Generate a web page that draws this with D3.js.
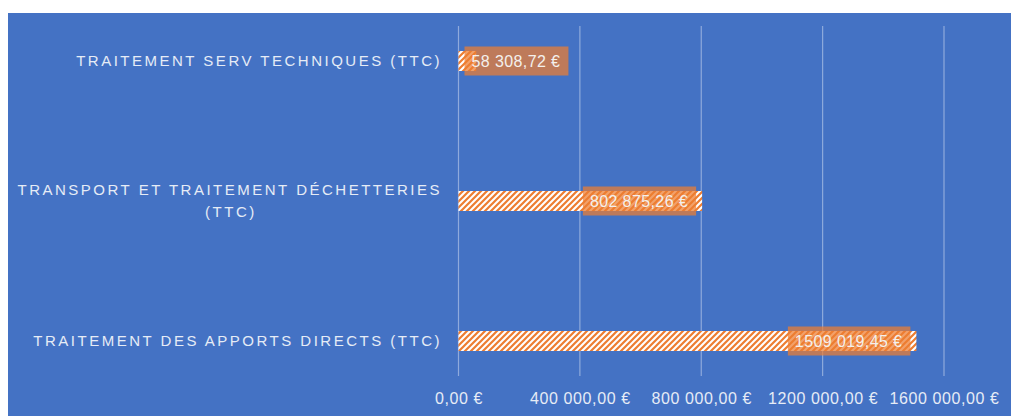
<!DOCTYPE html>
<html>
<head>
<meta charset="utf-8">
<script src="https://cdn.jsdelivr.net/npm/d3@7"></script>
<style>
  html, body { margin: 0; padding: 0; background: #fff; }
  svg { display: block; }
  .cat { font-family: "Liberation Sans", Arial, sans-serif; font-size: 15px; letter-spacing: 2.5px; fill: #e6ecf6; }
  .tick text { font-family: "Liberation Sans", Arial, sans-serif; font-size: 16px; letter-spacing: 0.6px; fill: #e6ecf6; }
  .lbl { font-family: "Liberation Sans", Arial, sans-serif; font-size: 16px; letter-spacing: 0.4px; fill: #f4f0ec; }
</style>
</head>
<body>
<svg id="chart" width="1011" height="416"></svg>
<script>
// --- data ---
const categories = [
    "TRAITEMENT SERV TECHNIQUES (TTC)",
    "TRANSPORT ET TRAITEMENT DÉCHETTERIES (TTC)",
    "TRAITEMENT DES APPORTS DIRECTS (TTC)"
];
const values = [58308.72, 802875.26, 1509019.45];
const tickValues = [0, 400000, 800000, 1200000, 1600000];
const tickLabels = ["0,00 €", "400 000,00 €", "800 000,00 €", "1200 000,00 €", "1600 000,00 €"];

// Excel style "# ##0,00 €" : only one group separator
function fmt(v) {
    const parts = v.toFixed(2).split(".");
    let int = parts[0];
    if (int.length > 3) int = int.slice(0, -3) + " " + int.slice(-3);
    return int + "," + parts[1] + " €";
}

const width = 1011, height = 416;
const svg = d3.select("#chart");

// background
svg.append("rect").attr("x", 8).attr("y", 13)
    .attr("width", width - 8).attr("height", height - 13)
    .attr("fill", "#4472c4");

// hatch pattern (wide upward diagonal)
const defs = svg.append("defs");
const pat = defs.append("pattern")
    .attr("id", "hatch")
    .attr("patternUnits", "userSpaceOnUse")
    .attr("width", 6).attr("height", 6);
pat.append("rect").attr("width", 6).attr("height", 6).attr("fill", "#ffffff");
pat.append("path")
    .attr("d", "M-1,1 L1,-1 M0,6 L6,0 M5,7 L7,5")
    .attr("stroke", "#ed7d31").attr("stroke-width", 2.2);

const x = d3.scaleLinear().domain([0, 1600000]).range([458.5, 944]);
const y = d3.scaleBand().domain(categories).range([-9, 411]);
const barH = 20;
const gridTop = 26, gridBottom = 376;

// gridlines
svg.append("g").selectAll("line")
    .data(tickValues)
    .enter().append("line")
    .attr("x1", d => x(d)).attr("x2", d => x(d))
    .attr("y1", gridTop).attr("y2", gridBottom)
    .attr("stroke", "#8faadc").attr("stroke-width", 1.2);

// x axis labels
const xAxis = d3.axisBottom(x)
    .tickValues(tickValues)
    .tickSize(0)
    .tickPadding(0)
    .tickFormat((d, i) => tickLabels[i]);
const gx = svg.append("g").attr("transform", "translate(0,393)").call(xAxis);
gx.select(".domain").remove();
gx.selectAll(".tick text").attr("dy", "0.71em").attr("font-family", null).attr("font-size", null).attr("fill", null);

// bars
svg.append("g").selectAll("rect")
    .data(values)
    .enter().append("rect")
    .attr("x", x(0))
    .attr("y", (d, i) => y(categories[i]) + y.bandwidth() / 2 - barH / 2)
    .attr("width", d => x(d) - x(0))
    .attr("height", barH)
    .attr("fill", "url(#hatch)");

// category labels (wrapped when too long)
const catG = svg.append("g");
categories.forEach((c, i) => {
    const cy = y(c) + y.bandwidth() / 2;
    const t = catG.append("text").attr("class", "cat").text(c);
    let lines = [c];
    if (t.node().getComputedTextLength() > 425) {
        const words = c.split(" ");
        lines = [words.slice(0, -1).join(" "), words[words.length - 1]];
    }
    t.remove();
    if (lines.length === 1) {
        catG.append("text").attr("class", "cat")
            .attr("x", 442).attr("y", cy).attr("dy", "0.36em")
            .attr("text-anchor", "end").text(c);
    } else {
        const t1 = catG.append("text").attr("class", "cat")
            .attr("x", 442).attr("y", cy - 11).attr("dy", "0.36em")
            .attr("text-anchor", "end").text(lines[0]);
        const w1 = t1.node().getComputedTextLength();
        catG.append("text").attr("class", "cat")
            .attr("x", 442 - w1 / 2 + 1.2).attr("y", cy + 11).attr("dy", "0.36em")
            .attr("text-anchor", "middle").text(lines[1]);
    }
});

// data labels
const lblG = svg.append("g");
values.forEach((v, i) => {
    const cy = y(categories[i]) + y.bandwidth() / 2;
    const g = lblG.append("g");
    const t = g.append("text").attr("class", "lbl").attr("dy", "0.36em").text(fmt(v));
    const tw = t.node().getComputedTextLength();
    const bw = tw + 15, bh = 29;
    const bx = Math.max(x(v) - 6 - bw, x(0) + 6);
    g.insert("rect", "text")
        .attr("x", bx).attr("y", cy - bh / 2)
        .attr("width", bw).attr("height", bh)
        .attr("fill", "#ed7d31").attr("fill-opacity", 0.72);
    t.attr("x", bx + 7).attr("y", cy);
});
</script>
</body>
</html>
